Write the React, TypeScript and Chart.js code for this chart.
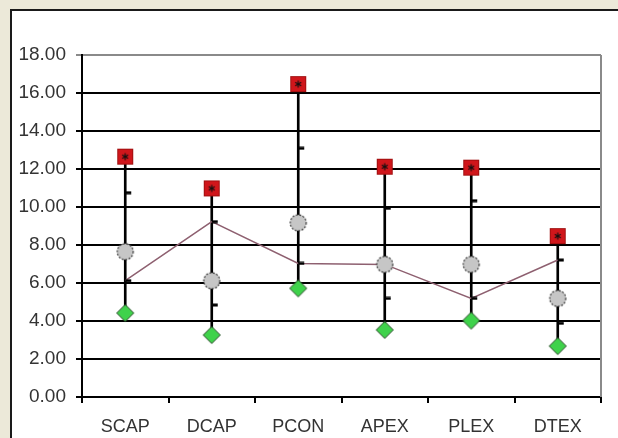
import React, { useEffect, useRef } from "react";
import { Chart, registerables } from "chart.js";

Chart.register(...registerables);

const categories = ["SCAP", "DCAP", "PCON", "APEX", "PLEX", "DTEX"];
const maxVals = [12.65, 10.98, 16.47, 12.12, 12.07, 8.47];
const minVals = [4.42, 3.26, 5.72, 3.53, 4.02, 2.68];
const medianVals = [7.65, 6.12, 9.17, 6.98, 6.98, 5.19];
const upperDash = [10.75, 9.23, 13.09, 9.93, 10.33, 7.21];
const lowerDash = [6.12, 4.84, 7.03, 5.19, 5.19, 3.88];
const lineVals = [6.12, 9.23, 7.03, 6.98, 5.19, 7.21];
const yTicks = { min: 0, max: 18, step: 2 };

function makeCanvas(w: number, h: number, draw: (c: CanvasRenderingContext2D) => void) {
  const cv = document.createElement("canvas");
  cv.width = w;
  cv.height = h;
  const ctx = cv.getContext("2d")!;
  draw(ctx);
  return cv;
}

const dashImg = () =>
  makeCanvas(14, 4, (c) => {
    c.fillStyle = "#000";
    c.fillRect(7, 0.5, 6, 3);
  });

const squareImg = () =>
  makeCanvas(18, 18, (c) => {
    c.fillStyle = "#D0161B";
    c.fillRect(1, 1, 16, 16);
    c.strokeStyle = "#A01010";
    c.lineWidth = 1;
    c.strokeRect(1.5, 1.5, 15, 15);
    c.strokeStyle = "#111";
    c.lineWidth = 1.2;
    const cx = 9, cy = 9, r = 3.5;
    for (let k = 0; k < 3; k++) {
      const a = Math.PI / 2 + (k * Math.PI) / 3;
      c.beginPath();
      c.moveTo(cx - r * Math.cos(a), cy - r * Math.sin(a));
      c.lineTo(cx + r * Math.cos(a), cy + r * Math.sin(a));
      c.stroke();
    }
  });

const diamondImg = () =>
  makeCanvas(20, 20, (c) => {
    c.beginPath();
    c.moveTo(10, 1.5);
    c.lineTo(18.5, 10);
    c.lineTo(10, 18.5);
    c.lineTo(1.5, 10);
    c.closePath();
    c.fillStyle = "#3FD24B";
    c.fill();
    c.strokeStyle = "#2a4a2a";
    c.lineWidth = 1;
    c.stroke();
  });

const circleImg = () =>
  makeCanvas(20, 20, (c) => {
    c.beginPath();
    c.arc(10, 10, 8, 0, Math.PI * 2);
    c.fillStyle = "#C6C6C6";
    c.fill();
    c.setLineDash([2, 1.5]);
    c.strokeStyle = "#333";
    c.lineWidth = 1.2;
    c.stroke();
  });

const borderPlugin = {
  id: "plotBorder",
  beforeDatasetsDraw(chart: any) {
    const { ctx, chartArea } = chart;
    ctx.save();
    ctx.strokeStyle = "#8a8a8a";
    ctx.lineWidth = 2;
    ctx.beginPath();
    ctx.moveTo(chartArea.right, chartArea.top);
    ctx.lineTo(chartArea.right, chartArea.bottom);
    ctx.stroke();
    ctx.restore();
  },
};

export default function App() {
  const ref = useRef<HTMLCanvasElement | null>(null);
  useEffect(() => {
    document.body.style.margin = "0";
    document.body.style.overflow = "hidden";
    const sq = squareImg();
    const dm = diamondImg();
    const ci = circleImg();
    const ds = dashImg();
    const chart = new Chart(ref.current!, {
      type: "bar",
      data: {
        labels: categories,
        datasets: [
          {
            type: "bar",
            data: minVals.map((v, i) => [v, maxVals[i]]) as any,
            backgroundColor: "#000",
            barThickness: 2,
            order: 10,
          } as any,
          {
            type: "line",
            data: lineVals,
            borderColor: "#8E6070",
            borderWidth: 1.5,
            pointRadius: 0,
            order: 9,
          },
          {
            type: "line",
            data: upperDash,
            showLine: false,
            pointStyle: ds as any,
            order: 8,
          },
          {
            type: "line",
            data: lowerDash,
            showLine: false,
            pointStyle: ds as any,
            order: 7,
          },
          {
            type: "line",
            data: medianVals,
            showLine: false,
            pointStyle: ci as any,
            order: 3,
          },
          {
            type: "line",
            data: minVals,
            showLine: false,
            pointStyle: dm as any,
            order: 2,
          },
          {
            type: "line",
            data: maxVals,
            showLine: false,
            pointStyle: sq as any,
            order: 1,
          },
        ],
      },
      options: {
        responsive: false,
        animation: false,
        devicePixelRatio: 1,
        layout: { padding: { left: 0, top: 44, right: 11, bottom: 0 } },
        plugins: { legend: { display: false }, tooltip: { enabled: false } },
        scales: {
          x: {
            offset: true,
            grid: {
              offset: true,
              drawOnChartArea: false,
              tickLength: 6,
              color: "#000",
              lineWidth: 2,
            },
            border: { color: "#000", width: 2 },
            ticks: {
              color: "#333",
              padding: 13,
              font: { family: "Liberation Sans, Arial, sans-serif", size: 18 },
            },
            afterFit: (s: any) => {
              s.height = 41;
            },
          },
          y: {
            min: yTicks.min,
            max: yTicks.max,
            ticks: {
              stepSize: yTicks.step,
              color: "#333",
              padding: 10,
              font: { family: "Liberation Sans, Arial, sans-serif", size: 19 },
              callback: (v: any) => Number(v).toFixed(2),
            },
            grid: {
              color: (c: any) => (c.tick && c.tick.value === yTicks.max ? "#8a8a8a" : "#000"),
              lineWidth: 2,
              tickLength: 6,
            },
            border: { color: "#000", width: 2 },
            afterFit: (s: any) => {
              s.width = 70;
            },
          },
        },
      },
      plugins: [borderPlugin],
    });
    return () => chart.destroy();
  }, []);

  return (
    <div
      style={{
        position: "fixed",
        left: 0,
        top: 0,
        width: 618,
        height: 438,
        background: "#fff",
        overflow: "hidden",
      }}
    >
      <div
        style={{
          position: "absolute",
          left: 0,
          top: 0,
          width: 10,
          height: 438,
          background: "#ECE9D9",
        }}
      />
      <div
        style={{
          position: "absolute",
          left: 0,
          top: 0,
          width: 618,
          height: 9,
          background: "#ECE9D9",
        }}
      />
      <div
        style={{
          position: "absolute",
          left: 10,
          top: 9,
          width: 2,
          height: 429,
          background: "#1a1a1a",
        }}
      />
      <div
        style={{
          position: "absolute",
          left: 10,
          top: 9,
          width: 608,
          height: 2,
          background: "#1a1a1a",
        }}
      />
      <canvas
        ref={ref}
        width={600}
        height={427}
        style={{ display: "block", position: "absolute", left: 12, top: 11 }}
      />
    </div>
  );
}
